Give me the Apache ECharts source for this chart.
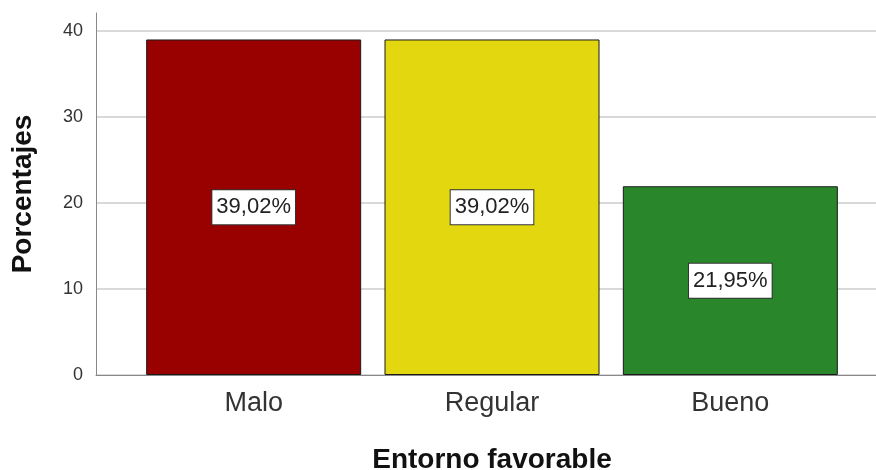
<!DOCTYPE html>
<html>
<head>
<meta charset="utf-8">
<script src="https://cdn.jsdelivr.net/npm/echarts@6/dist/echarts.min.js"></script>
<style>
  html, body { margin: 0; padding: 0; background: #fff; }
  #chart { width: 876px; height: 470px; }
</style>
</head>
<body>
<div id="chart"></div>
<script>
// Entorno favorable: porcentaje por categoría
const categories = ['Malo', 'Regular', 'Bueno'];
const percentages = [39.02, 39.02, 21.95];
const barColors = ['#990000', '#e3d710', '#2a862a'];
const yTicks = [0, 10, 20, 30, 40];

const FONT = '"Liberation Sans", Arial, sans-serif';
const Y_MAX = 42.1;

const chart = echarts.init(document.getElementById('chart'), null, { renderer: 'canvas' });

chart.setOption({
  animation: false,
  backgroundColor: '#ffffff',
  grid: [
    // frame: value axis, gridlines, baseline
    { left: 96, right: 0, top: 13, bottom: 95, outerBoundsMode: 'none', containLabel: false },
    // bars and category labels
    { left: 134.5, right: 26.5, top: 13, bottom: 95, outerBoundsMode: 'none', containLabel: false }
  ],
  xAxis: [
    {
      gridIndex: 0, type: 'value', min: 0, max: 1,
      axisLine: { show: true, onZero: false, lineStyle: { color: '#888', width: 1 } },
      axisTick: { show: false }, axisLabel: { show: false }, splitLine: { show: false }
    },
    {
      gridIndex: 1, type: 'category', data: categories,
      axisLine: { show: false }, axisTick: { show: false },
      axisLabel: { color: '#333', fontFamily: FONT, fontSize: 27, margin: 15 },
      name: 'Entorno favorable', nameLocation: 'middle', nameGap: 71,
      nameTextStyle: { color: '#111', fontFamily: FONT, fontSize: 28, fontWeight: 'bold' }
    }
  ],
  yAxis: [
    {
      gridIndex: 0, type: 'value', min: 0, max: Y_MAX, interval: 10,
      axisLine: { show: true, lineStyle: { color: '#888', width: 1 } },
      axisTick: { show: false },
      axisLabel: {
        color: '#333', fontFamily: FONT, fontSize: 18, margin: 13, showMaxLabel: false,
        formatter: v => (yTicks.indexOf(v) >= 0 ? String(v) : '')
      },
      splitLine: { show: true, showMaxLine: false, lineStyle: { color: '#d9d9d9', width: 2 } },
      name: 'Porcentajes', nameLocation: 'middle', nameRotate: 90, nameGap: 59,
      nameTextStyle: { color: '#111', fontFamily: FONT, fontSize: 28, fontWeight: 'bold' }
    },
    {
      gridIndex: 1, type: 'value', min: 0, max: Y_MAX, show: false
    }
  ],
  series: [{
    type: 'bar',
    xAxisIndex: 1, yAxisIndex: 1,
    barWidth: 215,
    data: percentages.map((v, i) => ({
      value: v,
      itemStyle: { color: barColors[i], borderColor: '#1a1a1a', borderWidth: 1 }
    })),
    label: {
      show: true, position: 'inside',
      formatter: p => p.value.toFixed(2).replace('.', ',') + '%',
      color: '#222', fontFamily: FONT, fontSize: 22,
      backgroundColor: '#ffffff', borderColor: '#333', borderWidth: 1,
      padding: [7, 4, 5, 4]
    }
  }]
});
</script>
</body>
</html>
